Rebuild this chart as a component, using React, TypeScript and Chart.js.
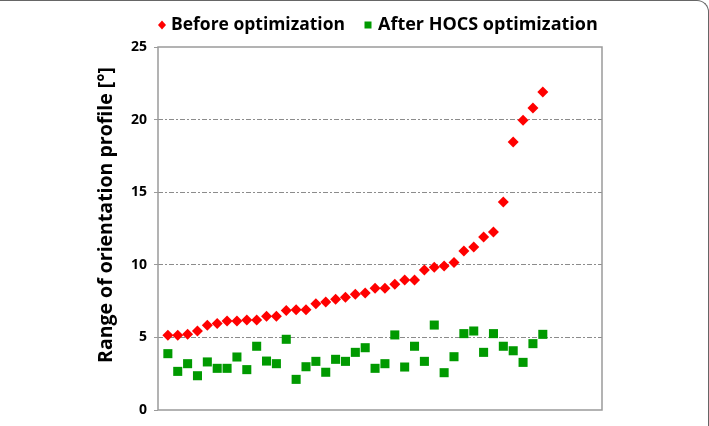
import React, { useEffect, useRef } from "react";
import { Chart, registerables } from "chart.js";

Chart.register(...registerables);

const samples = [1, 2, 3, 4, 5, 6, 7, 8, 9, 10, 11, 12, 13, 14, 15, 16, 17, 18, 19, 20, 21, 22, 23, 24, 25, 26, 27, 28, 29, 30, 31, 32, 33, 34, 35, 36, 37, 38, 39];
const beforeOpt = [5.14, 5.14, 5.21, 5.44, 5.83, 5.95, 6.13, 6.13, 6.2, 6.2, 6.45, 6.45, 6.86, 6.91, 6.91, 7.32, 7.44, 7.62, 7.76, 7.97, 8.06, 8.38, 8.38, 8.66, 8.95, 8.95, 9.64, 9.83, 9.92, 10.15, 10.95, 11.23, 11.91, 12.26, 14.33, 18.46, 19.95, 20.8, 21.9];
const afterOpt = [3.88, 2.66, 3.19, 2.36, 3.31, 2.87, 2.87, 3.65, 2.78, 4.39, 3.37, 3.19, 4.87, 2.11, 2.98, 3.35, 2.6, 3.49, 3.35, 3.97, 4.29, 2.87, 3.19, 5.17, 2.96, 4.39, 3.35, 5.85, 2.57, 3.67, 5.26, 5.44, 3.97, 5.26, 4.39, 4.08, 3.28, 4.57, 5.21];
const seriesLabels = ["Before optimization", "After HOCS optimization"];
const yTitle = "Range of orientation profile [°]";

const RED = "#ff0000";
const GREEN = "#009a00";
const FAMILY = "'Open Sans'";

function fitFont(ctx: CanvasRenderingContext2D, text: string, target: number) {
  ctx.font = `bold 20px ${FAMILY}`;
  const w = ctx.measureText(text).width;
  const size = (20 * target) / w;
  ctx.font = `bold ${size}px ${FAMILY}`;
}

export default function App() {
  const ref = useRef<HTMLCanvasElement | null>(null);
  useEffect(() => {
    if (!ref.current) return;
    const decor = {
      id: "decor",
      beforeDatasetsDraw(chart: any) {
        const { ctx, chartArea: a } = chart;
        ctx.save();
        ctx.strokeStyle = "#9a9a9a";
        ctx.lineWidth = 1.5;
        ctx.strokeRect(a.left, a.top, a.right - a.left, a.bottom - a.top);
        ctx.restore();
      },
      afterDraw(chart: any) {
        const ctx = chart.ctx;
        ctx.save();
        // legend
        ctx.textBaseline = "middle";
        const ly = 24;
        ctx.fillStyle = RED;
        ctx.beginPath();
        ctx.moveTo(162, ly - 4.5);
        ctx.lineTo(166, ly);
        ctx.lineTo(162, ly + 4.5);
        ctx.lineTo(158, ly);
        ctx.closePath();
        ctx.fill();
        ctx.fillStyle = "#000";
        fitFont(ctx, chart.data.datasets[0].label, 174);
        ctx.fillText(chart.data.datasets[0].label, 171, ly);
        ctx.fillStyle = GREEN;
        ctx.fillRect(364.5, ly - 3.5, 7, 7);
        ctx.fillStyle = "#000";
        fitFont(ctx, chart.data.datasets[1].label, 220);
        ctx.fillText(chart.data.datasets[1].label, 378, ly);
        // y title
        ctx.translate(106, 214);
        ctx.rotate(-Math.PI / 2);
        ctx.textAlign = "center";
        fitFont(ctx, yTitle, 296);
        ctx.fillText(yTitle, 0, 0);
        ctx.restore();
      },
    };
    const chart = new Chart(ref.current, {
      type: "scatter",
      data: {
        datasets: [
          {
            label: seriesLabels[0],
            data: samples.map((x, i) => ({ x, y: beforeOpt[i] })),
            pointStyle: "rectRot",
            pointRadius: 5.5,
            backgroundColor: RED,
            borderWidth: 0,
          },
          {
            label: seriesLabels[1],
            data: samples.map((x, i) => ({ x, y: afterOpt[i] })),
            pointStyle: "rect",
            pointRadius: 6.4,
            backgroundColor: GREEN,
            borderWidth: 0,
          },
        ],
      },
      options: {
        responsive: false,
        animation: false,
        layout: { padding: { left: 100, top: 46, right: 107, bottom: 17 } },
        plugins: { legend: { display: false }, tooltip: { enabled: false } },
        scales: {
          x: { type: "linear", min: 0, max: 45, display: false },
          y: {
            min: 0,
            max: 25,
            ticks: {
              stepSize: 5,
              color: "#000",
              font: { family: "Open Sans", weight: "bold", size: 14 },
              padding: 7,
            },
            grid: {
              color: (c: any) =>
                c.tick && (c.tick.value === 0 || c.tick.value === 25) ? "rgba(0,0,0,0)" : "#8c8c8c",
              tickColor: "#9a9a9a",
              tickLength: 4,
              tickBorderDash: [],
              lineWidth: 1,
            },
            border: { display: false, dash: [5, 2, 2, 2] },
            afterFit: (s: any) => {
              s.width = 58;
            },
          },
        },
      },
      plugins: [decor],
    } as any);
    return () => chart.destroy();
  }, []);
  return (
    <div
      style={{
        position: "absolute",
        left: 0,
        top: 0,
        width: 709,
        height: 426,
        boxSizing: "border-box",
        borderTop: "1.5px solid #666",
        borderRight: "1.5px solid #666",
        borderTopRightRadius: 12,
        overflow: "hidden",
        background: "#fff",
      }}
    >
      <canvas ref={ref} width={709} height={426} style={{ position: "absolute", left: 0, top: 0, width: 709, height: 426 }} />
    </div>
  );
}
